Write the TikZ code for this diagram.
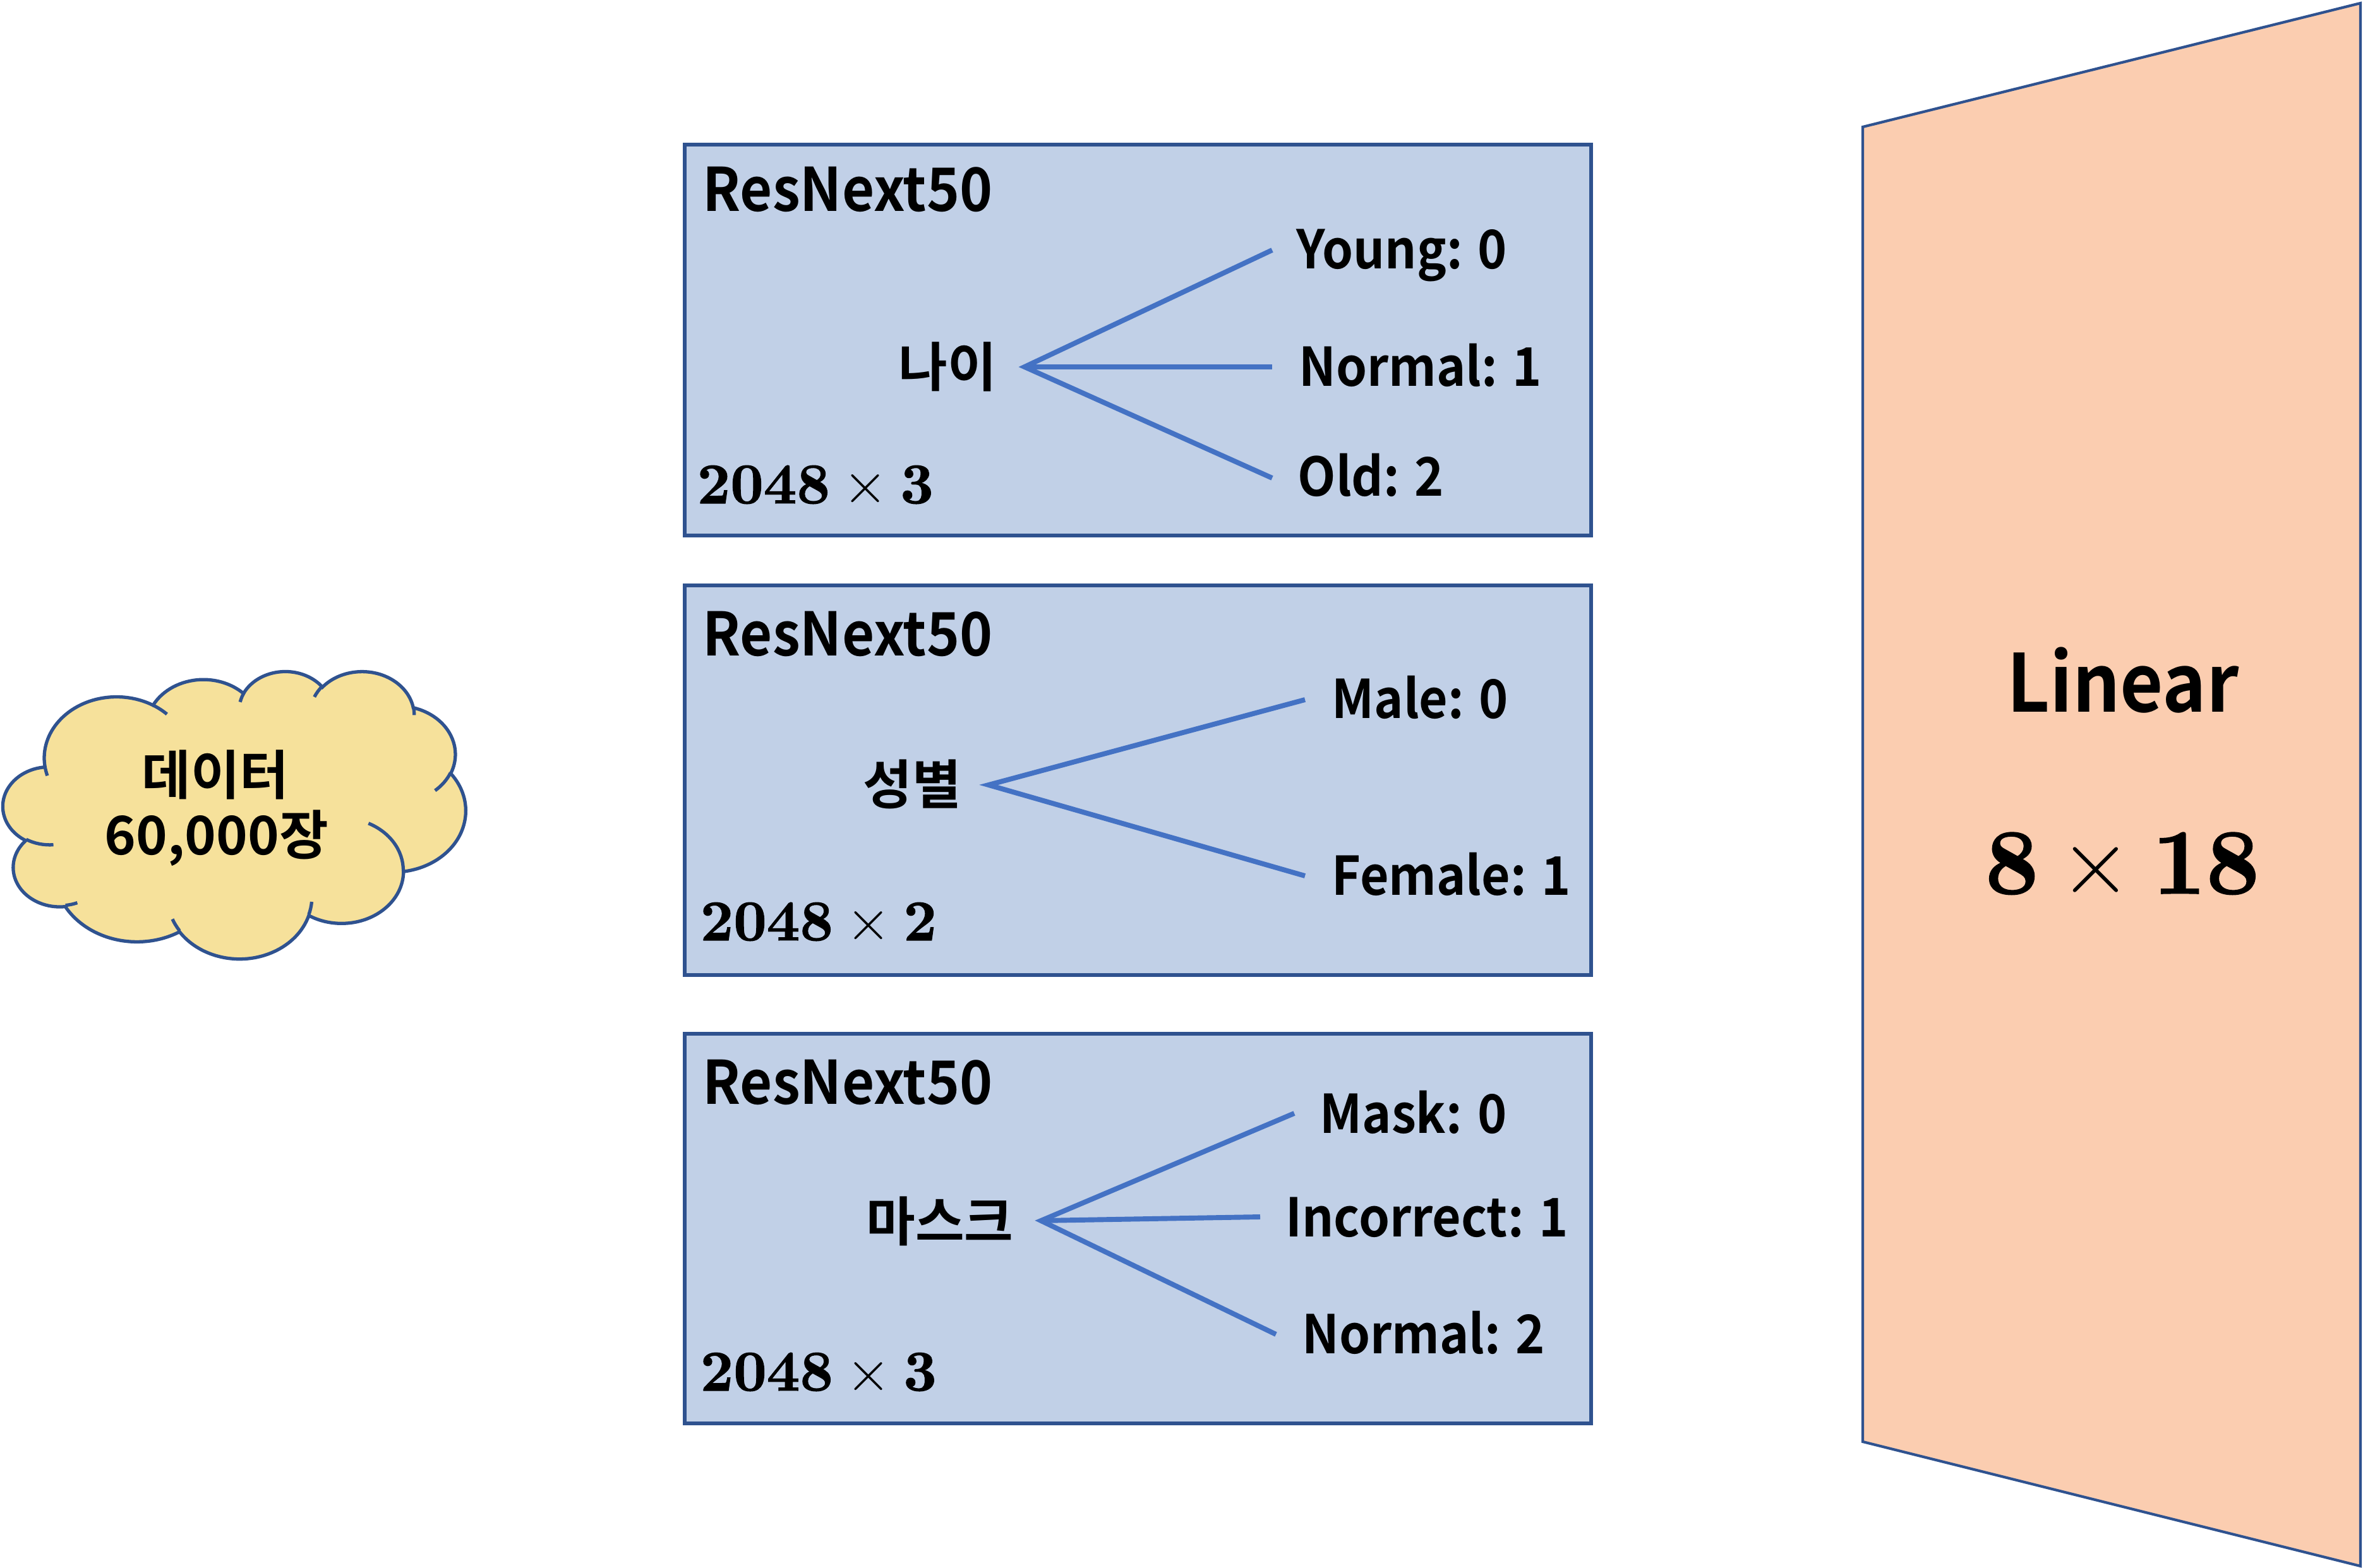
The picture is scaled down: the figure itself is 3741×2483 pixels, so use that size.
\documentclass[tikz,border=0pt]{standalone}
\usepackage{fontspec}
\newfontfamily\kr{Noto Sans CJK KR}[BoldFont={Noto Sans CJK KR Bold}]
\newfontfamily\krn{Noto Sans CJK KR}[BoldFont={Noto Sans CJK KR Bold}, FakeStretch=0.93]
\newfontfamily\dimbf{lmroman10-bold.otf}[FakeBold=1.2]
\newfontfamily\dimrm{lmroman10-regular.otf}
\definecolor{bord}{RGB}{47,82,143}
\definecolor{conn}{RGB}{68,114,196}
\definecolor{boxfill}{RGB}{193,208,231}
\definecolor{cloudfill}{RGB}{246,225,155}
\definecolor{linfill}{RGB}{251,205,176}
% DrawingML-style elliptical arc: wR hR startAngle sweepAngle (visual angles)
\newcommand\pA[3]{atan2((#1)*sin(#3),(#2)*cos(#3))}
\newcommand\pD[4]{(\pA{#1}{#2}{#3+#4}-\pA{#1}{#2}{#3})}
\newcommand\pArc[4]{arc[start angle={\pA{#1}{#2}{#3}}, delta angle={\pD{#1}{#2}{#3}{#4}+360*((#4)>0)*(\pD{#1}{#2}{#3}{#4}<0)-360*((#4)<0)*(\pD{#1}{#2}{#3}{#4}>0)}, x radius=#1, y radius=#2]}
\newcommand\dimtxt[2]{{\dimbf #1}\hspace{0.22em}{\dimrm ×}\hspace{0.22em}{\dimbf #2}}
\begin{document}
\begin{tikzpicture}[x=0.01cm,y=-0.01cm,
  bx/.style={draw=bord, fill=boxfill, line width=1.5pt},
  conline/.style={draw=conn, line width=2.25pt},
  lbl/.style={font=\krn\bfseries\fontsize{24}{28}\selectfont, anchor=base west, inner sep=0pt},
  title/.style={font=\krn\bfseries\fontsize{27}{32}\selectfont, anchor=base west, inner sep=0pt},
  krl/.style={font=\kr\bfseries\fontsize{24}{28}\selectfont, anchor=center, inner sep=0pt},
  dimt/.style={font=\fontsize{26}{30}\selectfont, anchor=base west, inner sep=0pt},
  cloudst/.style={draw=bord, line width=1.5pt}]
\useasboundingbox (0,0) rectangle (3741,2483);

% ---------- cloud ----------
\begin{scope}[shift={(5,1062)}, x=0.00169444cm, y=-0.00104861cm]
\fill[cloudfill] (390,1437)
 \pArc{675.3}{919.0}{-190.4875}{123.7805}
 \pArc{533.3}{726.7}{-144.1024}{89.9452}
 \pArc{436.5}{594.5}{-145.8079}{99.7230}
 \pArc{485.7}{659.5}{-130.9861}{117.2417}
 \pArc{533.3}{727.3}{-78.7089}{109.0269}
 \pArc{677.5}{922.0}{-46.2673}{130.2690}
 \pArc{578.5}{786.7}{0.6250}{114.0333}
 \pArc{675.2}{921.5}{22.4516}{115.1726}
 \pArc{772.0}{1054.3}{66.2426}{75.7110}
 \pArc{436.0}{591.8}{-274.9421}{146.7356}
 \pArc{434.5}{594.5}{-246.8285}{152.5189}
 -- cycle;
\draw[cloudst] (390,1437)
 \pArc{675.3}{919.0}{-190.4875}{123.7805}
 \pArc{533.3}{726.7}{-144.1024}{89.9452}
 \pArc{436.5}{594.5}{-145.8079}{99.7230}
 \pArc{485.7}{659.5}{-130.9861}{117.2417}
 \pArc{533.3}{727.3}{-78.7089}{109.0269}
 \pArc{677.5}{922.0}{-46.2673}{130.2690}
 \pArc{578.5}{786.7}{0.6250}{114.0333}
 \pArc{675.2}{921.5}{22.4516}{115.1726}
 \pArc{772.0}{1054.3}{66.2426}{75.7110}
 \pArc{436.0}{591.8}{-274.9421}{146.7356}
 \pArc{434.5}{594.5}{-246.8285}{152.5189}
 -- cycle;
\draw[cloudst]
 (469.3,2617.7) \pArc{434.5}{594.5}{86.742}{26.4295}
 (692.8,3489.9) \pArc{436.0}{591.8}{73.6105}{11.4475}
 (1647.8,3909.0) \pArc{675.2}{921.5}{137.6242}{14.0811}
 (2882.7,3475.1) \pArc{675.2}{921.5}{6.4533}{15.9984}
 (3412.9,2295.4) \pArc{578.5}{786.7}{-70.2924}{70.9174}
 (4179.8,1535.4) \pArc{533.3}{727.3}{30.3180}{27.7515}
 (3832.4,542.6) \pArc{485.7}{659.5}{-13.7443}{14.8589}
 (2907.8,395.2) \pArc{485.7}{659.5}{-149.1815}{18.1954}
 (2214.1,472.0) \pArc{436.5}{594.5}{-163.4943}{17.6864}
 (1400.0,519.2) \pArc{675.3}{919.0}{-66.7070}{12.3194}
 (412.7,1578.9) \pArc{675.3}{919.0}{157.6544}{11.8582};
\end{scope}
\node[krl] (cl1) at (341,1227) {데이터};
\node[krl] (cl2) at (343,1327) {60,000장};

% ---------- Linear trapezoid ----------
\draw[draw=bord, fill=linfill, line width=1.2pt] (2949,201) -- (3737,5) -- (3737,2480) -- (2949,2283) -- cycle;
\node[font=\krn\bfseries\fontsize{36}{40}\selectfont, anchor=base, inner sep=0pt] (lin) at (3361,1128) {Linear};
\node[font=\fontsize{42}{48}\selectfont, anchor=base, inner sep=0pt] (lindim) at (3360,1415) {\dimtxt{8}{18}};

% ---------- box 1 : age ----------
\draw[bx] (1084,229) rectangle (2519,848);
\node[title] (t1) at (1112,335) {ResNext50};
\node[krl] (age) at (1500,581) {나이};
\node[lbl] (young) at (2052,426) {Young: 0};
\node[lbl] (norm1) at (2056,612) {Normal: 1};
\node[lbl] (old) at (2054,786) {Old: 2};
\node[dimt] (d1) at (1103,797) {\dimtxt{2048}{3}};
\coordinate (a0) at (1622,581);
\coordinate (a1) at (2014,396);
\coordinate (a2) at (2014,581);
\coordinate (a3) at (2014,757);
\draw[conline] (a1) -- (a0) -- (a3);
\draw[conline] (a0) -- (a2);

% ---------- box 2 : gender ----------
\draw[bx] (1084,927) rectangle (2519,1544);
\node[title] (t2) at (1112,1039) {ResNext50};
\node[krl] (gen) at (1444,1242) {성별};
\node[lbl] (male) at (2108,1138) {Male: 0};
\node[lbl] (female) at (2108,1418) {Female: 1};
\node[dimt] (d2) at (1108,1489) {\dimtxt{2048}{2}};
\coordinate (g0) at (1565,1243);
\coordinate (g1) at (2066,1108);
\coordinate (g2) at (2066,1387);
\draw[conline] (g1) -- (g0) -- (g2);

% ---------- box 3 : mask ----------
\draw[bx] (1084,1637) rectangle (2519,2254);
\node[title] (t3) at (1112,1748) {ResNext50};
\node[krl] (mask) at (1488,1934) {마스크};
\node[lbl] (mask0) at (2089,1794) {Mask: 0};
\node[lbl] (inc) at (2035,1958) {Incorrect: 1};
\node[lbl] (norm2) at (2061,2143) {Normal: 2};
\node[dimt] (d3) at (1108,2202) {\dimtxt{2048}{3}};
\coordinate (m0) at (1648,1933);
\coordinate (m1) at (2049,1763);
\coordinate (m2) at (1995,1927);
\coordinate (m3) at (2020,2113);
\draw[conline] (m1) -- (m0) -- (m3);
\draw[conline] (m0) -- (m2);
\end{tikzpicture}
\end{document}
